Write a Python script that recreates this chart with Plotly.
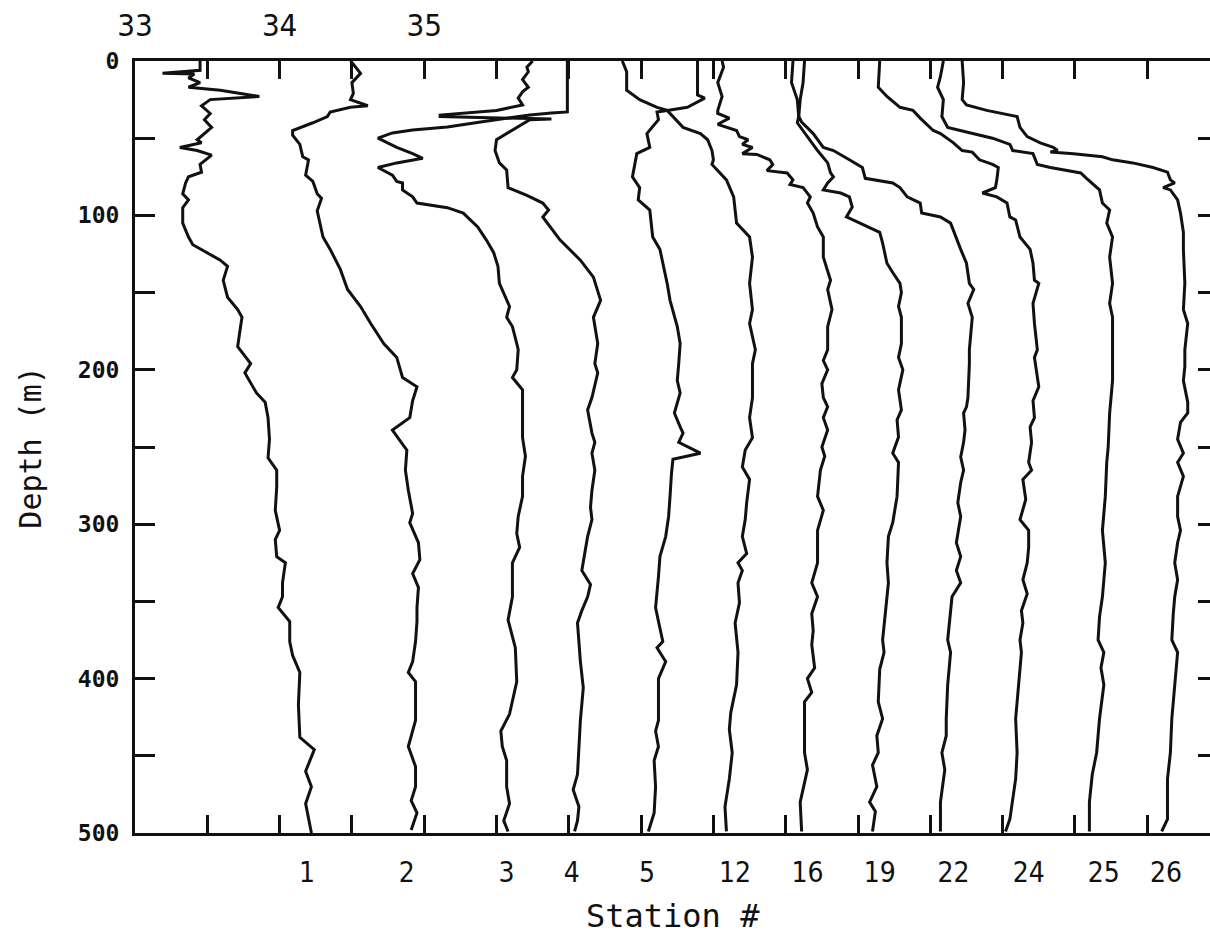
import plotly.graph_objects as go

# ---------------- data: salinity profiles (plotted on offset salinity axis) ----------------
st1_depth = [0, 6, 8, 8.5, 11, 14, 17, 19, 21, 23, 25, 29, 34, 38, 43, 51, 53, 56, 58, 61, 67, 72, 75, 79, 86, 90, 95, 105, 114, 119, 129, 133, 142, 153, 161, 166, 172, 185, 196, 202, 215, 221, 231, 245, 257, 265, 276, 291, 304, 310, 321, 325, 338, 347, 354, 363, 376, 385, 396, 417, 438, 446, 460, 470, 481, 500]
st1_sal = [33.45, 33.45, 33.19, 33.41, 33.37, 33.45, 33.37, 33.59, 33.73, 33.86, 33.52, 33.46, 33.52, 33.48, 33.53, 33.43, 33.46, 33.31, 33.43, 33.53, 33.45, 33.46, 33.37, 33.35, 33.33, 33.37, 33.33, 33.33, 33.37, 33.40, 33.59, 33.64, 33.61, 33.64, 33.71, 33.74, 33.73, 33.71, 33.80, 33.76, 33.84, 33.90, 33.92, 33.93, 33.92, 33.98, 33.98, 33.97, 34.00, 33.97, 33.98, 34.04, 34.02, 34.02, 33.99, 34.07, 34.07, 34.09, 34.14, 34.13, 34.14, 34.24, 34.18, 34.22, 34.18, 34.22]

st2_depth = [0, 1, 8, 14, 21, 25, 29, 30, 33, 36, 40, 45, 48, 54, 62, 64, 74, 78, 86, 89, 97, 114, 122, 135, 148, 159, 170, 183, 192, 205, 211, 220, 231, 239, 252, 265, 278, 293, 299, 312, 323, 332, 341, 354, 363, 376, 389, 396, 402, 427, 444, 457, 470, 479, 487, 498]
st2_sal = [34.49, 34.50, 34.56, 34.50, 34.51, 34.49, 34.61, 34.49, 34.35, 34.33, 34.23, 34.09, 34.09, 34.14, 34.16, 34.20, 34.18, 34.23, 34.26, 34.29, 34.26, 34.30, 34.35, 34.42, 34.47, 34.56, 34.63, 34.72, 34.81, 34.85, 34.95, 34.92, 34.90, 34.78, 34.88, 34.87, 34.89, 34.92, 34.90, 34.96, 34.97, 34.92, 34.96, 34.95, 34.95, 34.94, 34.92, 34.89, 34.94, 34.94, 34.89, 34.94, 34.94, 34.91, 34.95, 34.91]

st3_depth = [0, 33, 33.7, 35, 39.5, 42.7, 44.7, 46.6, 50, 56, 60, 63, 66, 69, 74, 78, 79, 83.5, 88, 92, 95, 98.5, 107.5, 116, 124, 133, 144, 153, 159, 166, 172, 183, 187, 200, 205, 213, 228, 244, 256, 269, 282, 295, 306, 315, 325, 347, 362, 380, 402, 423, 434, 444, 453, 470, 481, 492, 499]
st3_sal = [35.99, 35.99, 35.88, 35.73, 35.39, 35.16, 34.92, 34.78, 34.68, 34.81, 34.92, 34.99, 34.81, 34.68, 34.78, 34.81, 34.85, 34.85, 34.92, 34.95, 35.16, 35.27, 35.37, 35.43, 35.48, 35.51, 35.52, 35.56, 35.59, 35.57, 35.61, 35.64, 35.65, 35.64, 35.61, 35.68, 35.68, 35.68, 35.70, 35.68, 35.68, 35.65, 35.64, 35.66, 35.61, 35.61, 35.58, 35.63, 35.64, 35.59, 35.53, 35.54, 35.57, 35.57, 35.59, 35.55, 35.58]

st4_depth = [0, 4, 7, 12, 17, 20, 24, 28.5, 32, 35, 36, 37.6, 38, 51, 58, 66, 70.6, 82, 87, 92, 96.5, 101, 116, 129, 140, 155, 166, 183, 196, 202, 218, 226, 241, 247, 254, 265, 278, 289, 297, 308, 319, 330, 339, 347, 356, 364, 389, 406, 427, 449, 462, 472, 483, 492, 499]
st4_sal = [35.75, 35.71, 35.72, 35.68, 35.72, 35.68, 35.65, 35.68, 35.50, 35.11, 35.11, 35.88, 35.73, 35.50, 35.49, 35.52, 35.57, 35.58, 35.71, 35.82, 35.86, 35.82, 35.94, 36.08, 36.17, 36.22, 36.17, 36.20, 36.18, 36.20, 36.16, 36.13, 36.16, 36.18, 36.16, 36.18, 36.16, 36.15, 36.16, 36.13, 36.11, 36.09, 36.15, 36.13, 36.09, 36.06, 36.08, 36.10, 36.08, 36.07, 36.06, 36.03, 36.07, 36.06, 36.04]

st5_depth = [0, 22, 24, 26.5, 30, 32, 33, 38, 47, 56, 60, 75, 82, 90, 96.5, 114, 122, 144, 155, 172, 183, 196, 207, 215, 228, 237, 241, 247, 254, 258, 267, 282, 295, 308, 321, 334, 354, 363, 376, 380, 389, 400, 427, 434, 444, 453, 470, 487, 499]
st5_sal = [36.89, 36.89, 36.94, 36.89, 36.82, 36.68, 36.61, 36.62, 36.54, 36.56, 36.47, 36.44, 36.49, 36.48, 36.56, 36.58, 36.63, 36.68, 36.70, 36.75, 36.77, 36.76, 36.75, 36.77, 36.73, 36.77, 36.79, 36.76, 36.91, 36.72, 36.71, 36.70, 36.69, 36.67, 36.63, 36.62, 36.60, 36.62, 36.65, 36.61, 36.67, 36.62, 36.62, 36.60, 36.62, 36.59, 36.60, 36.59, 36.55]

st12_depth = [0, 7, 19, 25, 30, 32, 43, 47, 51, 58, 64, 67, 77, 88, 105, 114, 127, 144, 161, 170, 187, 196, 218, 231, 244, 252, 263, 271, 286, 297, 308, 319, 325, 330, 338, 351, 364, 383, 404, 422, 433, 448, 465, 483, 499]
st12_sal = [36.37, 36.40, 36.40, 36.49, 36.61, 36.68, 36.79, 36.91, 36.96, 36.99, 37.00, 36.99, 37.09, 37.14, 37.16, 37.25, 37.27, 37.25, 37.27, 37.25, 37.29, 37.27, 37.27, 37.25, 37.27, 37.22, 37.20, 37.25, 37.23, 37.22, 37.20, 37.23, 37.17, 37.20, 37.17, 37.18, 37.15, 37.17, 37.16, 37.12, 37.11, 37.13, 37.11, 37.08, 37.09]

st16_depth = [0, 4, 14, 23, 32, 34, 37, 41, 45, 49, 51, 54, 56, 60, 60.5, 64, 67, 71, 72.5, 77, 80, 82, 88, 92, 98.5, 107.5, 114, 127, 142, 148, 161, 172, 187, 194, 200, 209, 218, 224, 231, 239, 250, 256, 265, 282, 291, 304, 312, 325, 338, 347, 358, 369, 378, 393, 400, 409, 415, 426, 448, 459, 480, 499]
st16_sal = [37.06, 37.07, 37.03, 37.06, 37.03, 37.03, 37.11, 37.03, 37.16, 37.18, 37.24, 37.20, 37.27, 37.20, 37.30, 37.39, 37.41, 37.37, 37.51, 37.55, 37.53, 37.62, 37.67, 37.65, 37.69, 37.72, 37.76, 37.76, 37.81, 37.79, 37.82, 37.79, 37.79, 37.76, 37.79, 37.75, 37.76, 37.79, 37.76, 37.79, 37.75, 37.77, 37.74, 37.72, 37.76, 37.72, 37.72, 37.72, 37.68, 37.72, 37.68, 37.69, 37.68, 37.70, 37.65, 37.68, 37.63, 37.63, 37.63, 37.65, 37.60, 37.61]

st19_depth = [0, 14, 25, 36, 40, 49, 58, 66, 72.5, 75, 79, 83.5, 85.5, 88, 94.6, 101, 105, 111, 118, 131, 137, 144, 150, 159, 166, 183, 192, 200, 213, 226, 232.5, 243.5, 254, 260, 282, 299, 308, 325, 338, 356, 375, 383, 394, 415, 426, 437, 448, 456, 470, 480, 486, 499]
st19_sal = [37.55, 37.54, 37.58, 37.59, 37.58, 37.65, 37.72, 37.79, 37.81, 37.83, 37.79, 37.76, 37.88, 37.94, 37.96, 37.92, 38.01, 38.15, 38.17, 38.20, 38.24, 38.29, 38.30, 38.28, 38.30, 38.30, 38.28, 38.31, 38.28, 38.30, 38.27, 38.28, 38.24, 38.28, 38.27, 38.24, 38.21, 38.20, 38.21, 38.19, 38.17, 38.18, 38.15, 38.14, 38.17, 38.13, 38.14, 38.10, 38.13, 38.08, 38.12, 38.10]

st22_depth = [0, 14, 25, 36, 39.5, 47, 56, 58, 64, 69, 76, 79, 82, 88, 92, 98.5, 101, 105, 122, 131, 144, 148, 157, 166, 187, 196, 218, 224, 228, 239, 247, 256.5, 265, 273, 286, 295, 312, 321, 330, 338, 347, 358, 375, 383, 404, 426, 437, 448, 459, 480, 499]
st22_sal = [37.63, 37.62, 37.60, 37.59, 37.61, 37.69, 37.76, 37.83, 37.94, 38.03, 38.05, 38.24, 38.29, 38.34, 38.43, 38.44, 38.57, 38.64, 38.71, 38.75, 38.77, 38.80, 38.76, 38.79, 38.77, 38.77, 38.76, 38.75, 38.73, 38.74, 38.73, 38.71, 38.73, 38.71, 38.69, 38.71, 38.68, 38.71, 38.68, 38.71, 38.65, 38.64, 38.62, 38.64, 38.62, 38.61, 38.61, 38.58, 38.60, 38.57, 38.57]

st24_depth = [0, 17, 23, 30, 32, 37, 45, 47, 53, 58, 59, 64, 67, 69, 77, 82, 85.5, 88, 92, 101, 103, 114, 122, 131, 142, 144, 157, 170, 187, 192, 211, 220, 231, 237, 247, 260, 265, 271, 284, 297, 304, 315, 325, 336, 345, 356, 364, 375, 383, 404, 426, 448, 465, 491, 499]
st24_sal = [38.15, 38.14, 38.20, 38.29, 38.38, 38.43, 38.52, 38.57, 38.66, 38.72, 38.79, 38.84, 38.93, 38.97, 38.96, 38.95, 38.86, 38.96, 39.03, 39.05, 39.09, 39.12, 39.19, 39.21, 39.22, 39.25, 39.21, 39.22, 39.24, 39.22, 39.25, 39.21, 39.22, 39.19, 39.20, 39.18, 39.20, 39.14, 39.16, 39.12, 39.18, 39.18, 39.17, 39.14, 39.17, 39.13, 39.14, 39.12, 39.13, 39.11, 39.09, 39.10, 39.09, 39.05, 39.02]

st25_depth = [0, 10, 17, 25, 36, 43, 46, 50, 54, 58, 60, 67, 69, 72.5, 76, 83.5, 92, 96.5, 105, 114, 127, 144, 157, 166, 187, 198, 207, 228, 250, 260, 282, 304, 325, 347, 360, 375, 383, 393, 404, 426, 448, 462, 480, 499]
st25_sal = [38.59, 38.57, 38.55, 38.59, 38.58, 38.62, 38.75, 38.93, 39.05, 39.07, 39.21, 39.24, 39.33, 39.54, 39.58, 39.67, 39.69, 39.74, 39.72, 39.76, 39.74, 39.76, 39.74, 39.76, 39.76, 39.76, 39.76, 39.74, 39.73, 39.72, 39.71, 39.69, 39.71, 39.69, 39.67, 39.66, 39.70, 39.68, 39.70, 39.67, 39.65, 39.62, 39.60, 39.60]

st26_depth = [0, 14, 25, 28.5, 32, 36, 43, 49, 53, 56, 58, 59, 60, 62, 64, 66, 69, 72, 77, 79, 82, 83.5, 90, 98.5, 111, 122, 144, 161, 170, 187, 198, 207, 221, 228, 234, 245, 254, 260, 269, 282, 295, 304, 312, 325, 336, 347, 358, 375, 383, 404, 426, 448, 465, 483, 491, 499]
st26_sal = [38.72, 38.73, 38.72, 38.75, 38.89, 39.10, 39.12, 39.17, 39.26, 39.35, 39.38, 39.33, 39.49, 39.69, 39.76, 39.90, 40.04, 40.14, 40.16, 40.19, 40.11, 40.16, 40.21, 40.23, 40.25, 40.25, 40.26, 40.25, 40.28, 40.26, 40.26, 40.25, 40.28, 40.28, 40.23, 40.21, 40.25, 40.21, 40.25, 40.21, 40.21, 40.23, 40.21, 40.19, 40.21, 40.19, 40.18, 40.17, 40.21, 40.19, 40.17, 40.16, 40.14, 40.14, 40.14, 40.10]

# station labels along the bottom and where they sit on the salinity axis
station_names = ["1", "2", "3", "4", "5", "12", "16", "19", "22", "24", "25", "26"]
station_label_pos = [34.19, 34.88, 35.57, 36.02, 36.54, 37.15, 37.65, 38.15, 38.66, 39.18, 39.70, 40.13]

# axis ticks
sal_tick_vals = [33.0, 33.5, 34.0, 34.5, 35.0, 35.5, 36.0, 36.5, 37.0, 37.5, 38.0, 38.5, 39.0, 39.5, 40.0]
sal_tick_text = ["33", "", "34", "", "35", "", "", "", "", "", "", "", "", "", ""]
depth_tick_vals = [0, 50, 100, 150, 200, 250, 300, 350, 400, 450, 500]
depth_tick_text = ["0", "", "100", "", "200", "", "300", "", "400", "", "500"]

profiles = [
    (st1_sal, st1_depth), (st2_sal, st2_depth), (st3_sal, st3_depth), (st4_sal, st4_depth),
    (st5_sal, st5_depth), (st12_sal, st12_depth), (st16_sal, st16_depth), (st19_sal, st19_depth),
    (st22_sal, st22_depth), (st24_sal, st24_depth), (st25_sal, st25_depth), (st26_sal, st26_depth),
]

# ---------------- figure ----------------
X_RANGE = [33.0, 40.434]
Y_RANGE = [500, 0]
INK = "#111111"
MONO = "DejaVu Sans Mono, Liberation Mono, monospace"
NARROW = "Liberation Sans Narrow, DejaVu Sans Condensed, Roboto, sans-serif"

fig = go.Figure()
for name, (sal, dep) in zip(station_names, profiles):
    assert len(sal) == len(dep), name
    fig.add_trace(go.Scatter(x=sal, y=dep, mode="lines", name="Station " + name,
                             line=dict(color=INK, width=3), hoverinfo="x+y+name"))

# empty helper traces so the overlay axes are registered
fig.add_trace(go.Scatter(x=[], y=[], xaxis="x2", yaxis="y", showlegend=False, hoverinfo="skip"))
fig.add_trace(go.Scatter(x=[], y=[], xaxis="x3", yaxis="y", showlegend=False, hoverinfo="skip"))
fig.add_trace(go.Scatter(x=[], y=[], xaxis="x", yaxis="y2", showlegend=False, hoverinfo="skip"))

common_x = dict(range=X_RANGE, showgrid=False, zeroline=False, fixedrange=True)
common_y = dict(range=Y_RANGE, showgrid=False, zeroline=False, fixedrange=True)

fig.update_layout(
    width=1210, height=941, autosize=False,
    margin=dict(l=135, r=0, t=61, b=108, pad=0),
    paper_bgcolor="white", plot_bgcolor="white",
    showlegend=False,
    xaxis=dict(**common_x, side="bottom", anchor="y", showline=True, linecolor=INK, linewidth=3,
               ticks="inside", ticklen=18, tickwidth=3, tickcolor=INK,
               tickvals=sal_tick_vals[1:], showticklabels=False),
    xaxis2=dict(**common_x, overlaying="x", side="top", anchor="y", showline=True, linecolor=INK,
                linewidth=3, ticks="inside", ticklen=18, tickwidth=3, tickcolor=INK,
                tickvals=sal_tick_vals, ticktext=sal_tick_text,
                tickfont=dict(family=NARROW, size=31, color=INK), ticklabelstandoff=10),
    xaxis3=dict(**common_x, overlaying="x", side="bottom", anchor="y", showline=False, ticks="",
                tickvals=station_label_pos, ticktext=station_names,
                tickfont=dict(family=NARROW, size=28, color=INK), ticklabelstandoff=20),
    yaxis=dict(**common_y, side="left", anchor="x", showline=True, linecolor=INK, linewidth=3,
               ticks="inside", ticklen=20, tickwidth=3, tickcolor=INK,
               tickvals=depth_tick_vals, ticktext=depth_tick_text,
               tickfont=dict(family=MONO, size=23, color=INK, weight="bold"), ticklabelstandoff=8),
    yaxis2=dict(**common_y, overlaying="y", side="right", anchor="x", showline=False,
                ticks="inside", ticklen=12, tickwidth=3, tickcolor=INK,
                tickvals=depth_tick_vals[1:-1], showticklabels=False),
    annotations=[
        dict(text="Depth (m)", xref="paper", yref="paper", x=-0.098, y=0.5,
             xanchor="center", yanchor="middle", textangle=-90, showarrow=False,
             font=dict(family=MONO, size=30, color=INK)),
        dict(text="Station #", xref="paper", yref="paper", x=0.5, y=-0.107,
             xanchor="center", yanchor="middle", showarrow=False,
             font=dict(family=MONO, size=32, color=INK)),
    ],
)

fig.write_html("out.html")
